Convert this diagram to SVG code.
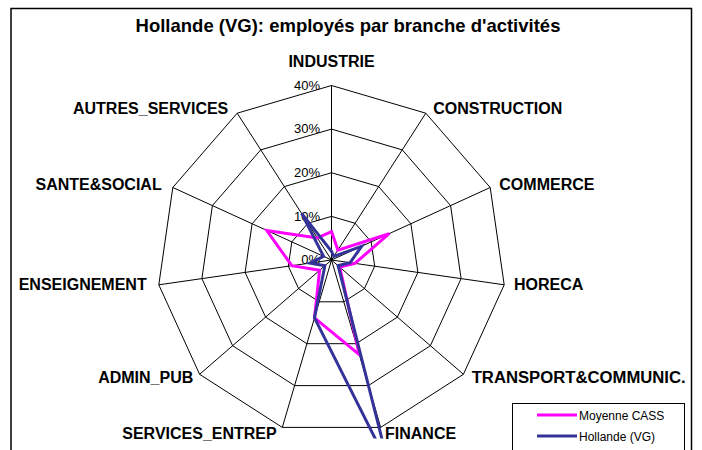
<svg xmlns="http://www.w3.org/2000/svg" width="702" height="450" viewBox="0 0 702 450">
<defs>
<style>
.lbl{font-family:"Liberation Sans",Arial,sans-serif;font-weight:bold;font-size:16px;fill:#000}
.pct{font-family:"Liberation Sans",Arial,sans-serif;font-size:13px;fill:#000;text-anchor:end}
.leg{font-family:"Liberation Sans",Arial,sans-serif;font-size:12px;fill:#000}
.grid{fill:none;stroke:#000;stroke-width:1}
.s1{fill:none;stroke:#FF00FF;stroke-width:3;stroke-linejoin:miter}
.s2{fill:none;stroke:#333399;stroke-width:3;stroke-linejoin:miter}
</style>
<clipPath id="plot"><rect x="0" y="0" width="702" height="438.5"/></clipPath>
</defs>
<rect x="0" y="0" width="702" height="450" fill="#fff"/>
<rect x="11" y="8.5" width="680.5" height="470" fill="#fff" stroke="#000" stroke-width="1.5"/>
<text x="348" y="32" text-anchor="middle" font-family="Liberation Sans, Arial, sans-serif" font-weight="bold" font-size="18.5">Hollande (VG): employés par branche d'activités</text>

<g id="grid">
<polygon class="grid" points="331.5,85.5 425.8,113.2 490.2,187.5 504.2,284.8 463.4,374.3 380.7,427.4 282.3,427.4 199.6,374.3 158.8,284.8 172.8,187.5 237.2,113.2"/>
<polygon class="grid" points="331.5,129.1 402.3,149.9 450.6,205.6 461.1,278.6 430.4,345.7 368.4,385.6 294.6,385.6 232.6,345.7 201.9,278.6 212.4,205.6 260.7,149.9"/>
<polygon class="grid" points="331.5,172.75 378.7,186.6 410.9,223.8 417.9,272.4 397.4,317.1 356.1,343.7 306.9,343.7 265.6,317.1 245.1,272.4 252.1,223.8 284.3,186.6"/>
<polygon class="grid" points="331.5,216.4 355.1,223.3 371.2,241.9 374.7,266.2 364.4,288.6 343.8,301.8 319.2,301.8 298.6,288.6 288.3,266.2 291.8,241.9 307.9,223.3"/>
<path class="grid" d="M331.5,260L331.5,85.5M331.5,260L425.8,113.2M331.5,260L490.2,187.5M331.5,260L504.2,284.8M331.5,260L463.4,374.3M331.5,260L380.7,427.4M331.5,260L282.3,427.4M331.5,260L199.6,374.3M331.5,260L158.8,284.8M331.5,260L172.8,187.5M331.5,260L237.2,113.2"/>
</g>

<g id="scale">
<text class="pct" x="320" y="89.5">40%</text>
<text class="pct" x="320" y="133.3">30%</text>
<text class="pct" x="320" y="176.8">20%</text>
<text class="pct" x="320" y="220.5">10%</text>
<text class="pct" x="320" y="264.2">0%</text>
</g>

<g id="labels">
<text class="lbl" x="331.5" y="67" text-anchor="middle">INDUSTRIE</text>
<text class="lbl" x="433.3" y="114">CONSTRUCTION</text>
<text class="lbl" x="499.3" y="189.5">COMMERCE</text>
<text class="lbl" x="514" y="289.5">HORECA</text>
<text class="lbl" x="471.7" y="383" textLength="214" lengthAdjust="spacingAndGlyphs">TRANSPORT&amp;COMMUNIC.</text>
<text class="lbl" x="385" y="438.5">FINANCE</text>
<text class="lbl" x="276.7" y="438.5" text-anchor="end">SERVICES_ENTREP</text>
<text class="lbl" x="193.3" y="383" text-anchor="end">ADMIN_PUB</text>
<text class="lbl" x="146.7" y="290" text-anchor="end">ENSEIGNEMENT</text>
<text class="lbl" x="161.7" y="190" text-anchor="end">SANTE&amp;SOCIAL</text>
<text class="lbl" x="228.3" y="114" text-anchor="end">AUTRES_SERVICES</text>
</g>

<g id="series" clip-path="url(#plot)">
<polygon id="moyenne" class="s1" points="331.5,231.6 337.9,250.1 389.1,233.7 354.9,263.4 339.7,267.1 359.3,354.6 314.5,317.8 319.6,270.3 291.8,265.7 266.8,230.5 317.3,238"/>
<polygon id="hollande" class="s2" points="331.5,251.3 333.9,256.3 361.7,246.2 350.1,262.7 338.1,265.7 388.6,465.2 314.5,317.8 324.9,265.7 309.9,263.1 323.6,256.4 301.6,213.4"/>
</g>

<g id="legend">
<rect x="512.5" y="403.5" width="172" height="60" fill="#fff" stroke="#000" stroke-width="1"/>
<line x1="537" y1="415" x2="577" y2="415" stroke="#FF00FF" stroke-width="3"/>
<text class="leg" x="579" y="419.5">Moyenne CASS</text>
<line x1="537" y1="436" x2="577" y2="436" stroke="#333399" stroke-width="3"/>
<text class="leg" x="579" y="440.5">Hollande (VG)</text>
</g>
</svg>
